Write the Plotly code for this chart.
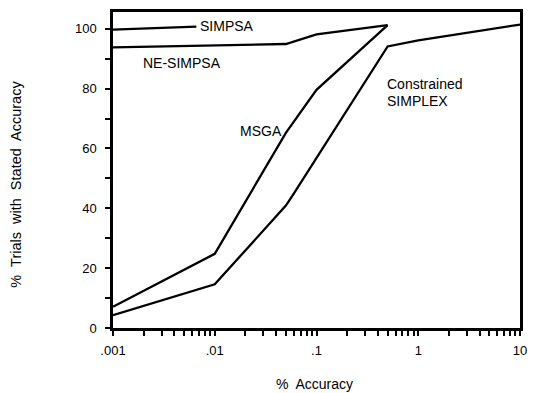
import plotly.graph_objects as go
import math

# ---- data ----
simpsa_x = [0.001, 0.0066]
simpsa_y = [99.7, 100.7]

ne_simpsa_x = [0.001, 0.05, 0.1, 0.5]
ne_simpsa_y = [93.8, 94.9, 98.1, 101.2]

msga_x = [0.001, 0.01, 0.05, 0.1, 0.5]
msga_y = [7.1, 24.8, 65.2, 79.6, 101.2]

simplex_x = [0.001, 0.01, 0.05, 0.06, 0.5, 1, 10]
simplex_y = [4.3, 14.6, 40.9, 45.0, 94.1, 96.1, 101.4]

x_decades = [0.001, 0.01, 0.1, 1, 10]
x_decade_text = [".001", ".01", ".1", "1", "10"]
y_tick_step = 10
y_label_step = 20

FONT = "Liberation Sans, Arial, sans-serif"
LW = 2.3

# tick positions: decades labelled, 2..9 unlabelled
x_tickvals, x_ticktext = [], []
for i, d in enumerate(x_decades):
    x_tickvals.append(d)
    x_ticktext.append(x_decade_text[i])
    if i < len(x_decades) - 1:
        for m in range(2, 10):
            x_tickvals.append(d * m)
            x_ticktext.append("")
y_tickvals = list(range(0, 101, y_tick_step))
y_ticktext = [str(v) if v % y_label_step == 0 else "" for v in y_tickvals]

fig = go.Figure()
for xs, ys, name in [(simpsa_x, simpsa_y, "SIMPSA"),
                     (ne_simpsa_x, ne_simpsa_y, "NE-SIMPSA"),
                     (msga_x, msga_y, "MSGA"),
                     (simplex_x, simplex_y, "Constrained SIMPLEX")]:
    fig.add_trace(go.Scatter(x=xs, y=ys, mode="lines", name=name,
                             line=dict(color="black", width=LW),
                             showlegend=False))

labels = [
    ("SIMPSA", 0.0068, 101.0),
    ("NE-SIMPSA", 0.0019, 88.7),
    ("MSGA", 0.0169, 65.8),
    ("Constrained", 0.475, 81.7),
    ("SIMPLEX", 0.475, 75.7),
]
for txt, x, y in labels:
    fig.add_annotation(x=math.log10(x), y=y, xref="x", yref="y", text=txt,
                       showarrow=False, xanchor="left", yanchor="middle",
                       font=dict(family=FONT, size=14, color="black"))

# axis titles
fig.add_annotation(x=0.495, y=-0.176, xref="paper", yref="paper",
                   text="%  Accuracy", showarrow=False,
                   xanchor="center", yanchor="middle",
                   font=dict(family=FONT, size=14, color="black"))
fig.add_annotation(x=-0.239, y=0.456, xref="paper", yref="paper",
                   text="%  Trials  with  Stated  Accuracy", showarrow=False,
                   textangle=-90, xanchor="center", yanchor="middle",
                   font=dict(family=FONT, size=14.5, color="black"))

fig.update_xaxes(type="log", range=[-3, 1], tickmode="array",
                 tickvals=x_tickvals, ticktext=x_ticktext, ticks="outside",
                 ticklen=5, tickwidth=1.8, tickcolor="black", showgrid=False,
                 zeroline=False, showline=True, linecolor="black",
                 linewidth=2.5, mirror=True, ticklabelstandoff=4,
                 tickfont=dict(family=FONT, size=13, color="black"))
fig.update_yaxes(range=[0, 105.6], tickmode="array", tickvals=y_tickvals,
                 ticktext=y_ticktext, ticks="outside",
                 ticklen=5, tickwidth=1.8, tickcolor="black", showgrid=False,
                 zeroline=False, showline=True, linecolor="black",
                 linewidth=2.5, mirror=True, ticklabelstandoff=6,
                 tickfont=dict(family=FONT, size=13, color="black"))

fig.update_layout(width=536, height=393, paper_bgcolor="white",
                  plot_bgcolor="white",
                  margin=dict(l=113, r=9, t=10, b=65),
                  font=dict(family=FONT, color="black"))

fig.write_html("out.html")
